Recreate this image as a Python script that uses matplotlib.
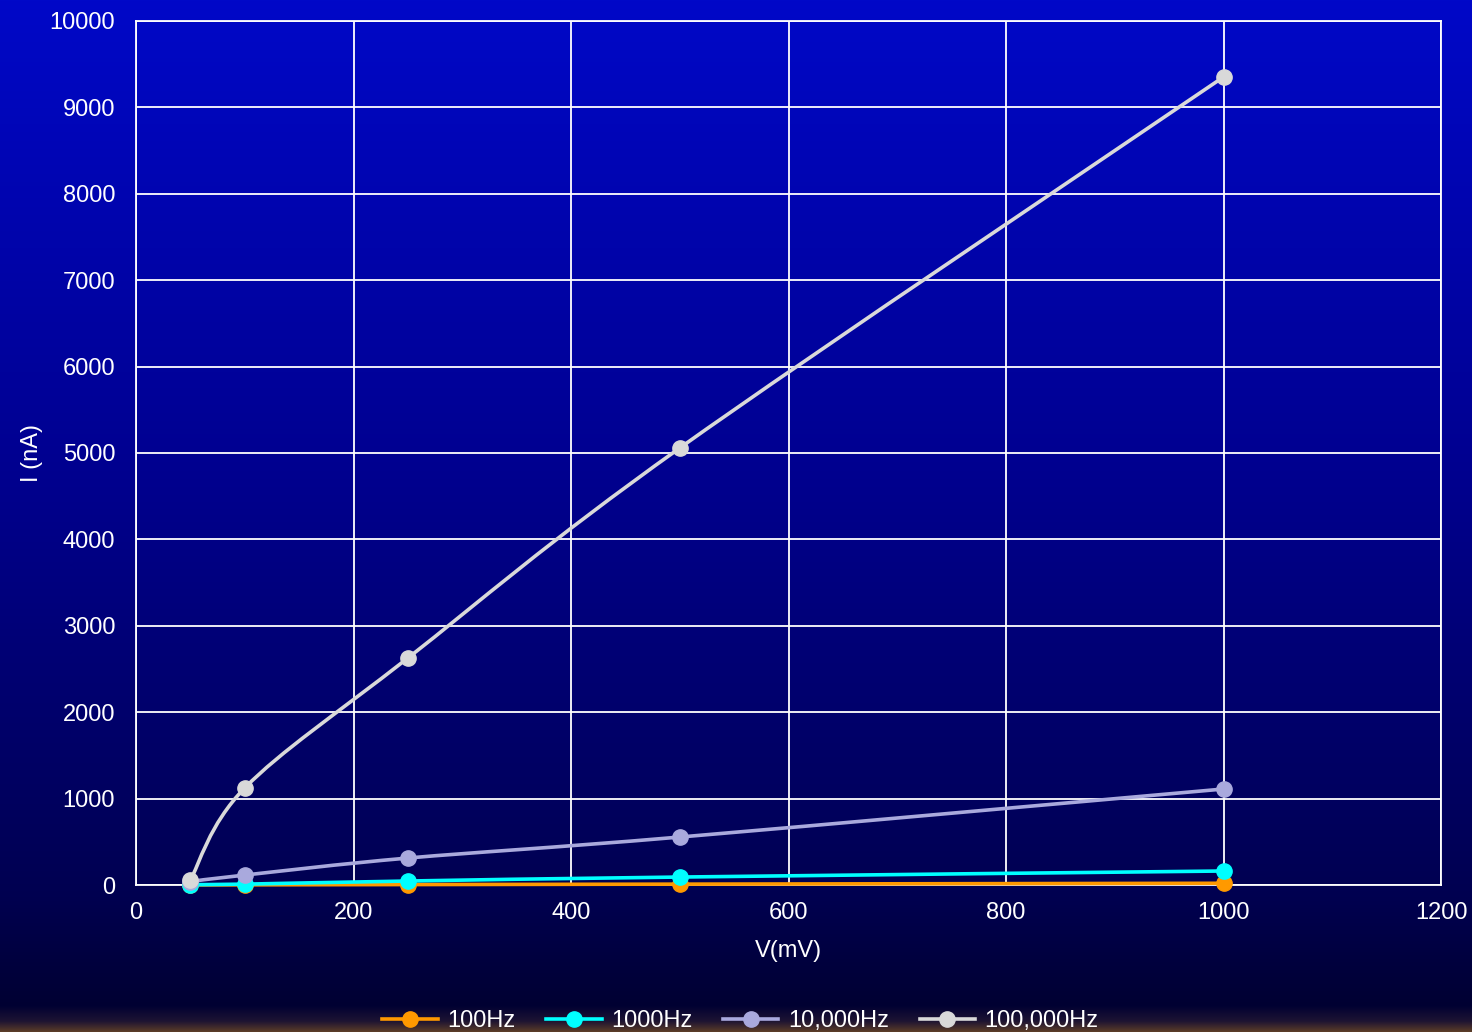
import numpy as np
import matplotlib
matplotlib.use("Agg")
import matplotlib.pyplot as plt
from matplotlib.path import Path
from matplotlib.patches import PathPatch
from matplotlib.lines import Line2D

plt.rcParams['font.family'] = ['Liberation Sans', 'DejaVu Sans']

# ---- data ----
voltage = [50, 100, 250, 500, 1000]
series_names = ["100Hz", "1000Hz", "10,000Hz", "100,000Hz"]
i_100hz = [1, 2, 5, 10, 20]
i_1000hz = [5, 10, 46, 92, 162]
i_10khz = [40, 115, 312, 555, 1111]
i_100khz = [58, 1123, 2627, 5058, 9352]
series_values = [i_100hz, i_1000hz, i_10khz, i_100khz]
series_colors = ["#FF9900", "#00FFFF", "#A9A9DD", "#D9D9D9"]
x_ticks = [0, 200, 400, 600, 800, 1000, 1200]
y_ticks = [0, 1000, 2000, 3000, 4000, 5000, 6000, 7000, 8000, 9000, 10000]

fig = plt.figure(figsize=(14.72, 10.32), dpi=100)

# background gradient
bg = fig.add_axes([0, 0, 1, 1], zorder=-10)
stops_y = [0.0, 0.48, 0.87, 0.975, 0.99, 1.0]
stops_c = [(0, 8, 200), (0, 0, 140), (0, 0, 80), (0, 0, 50), (30, 20, 50), (90, 60, 40)]
ys = np.linspace(0, 1, 1032)
cols = np.zeros((1032, 1, 3))
for k in range(3):
    cols[:, 0, k] = np.interp(ys, stops_y, [c[k] for c in stops_c]) / 255.0
bg.imshow(cols, aspect='auto', extent=[0, 1, 0, 1], origin='upper')
bg.axis('off')

W, H = 1472, 1032
L, R, T, B = 136, 1441, 21, 885
ax = fig.add_axes([L / W, 1 - B / H, (R - L) / W, (B - T) / H])
ax.set_facecolor('none')
ax.set_xlim(0, 1200)
ax.set_ylim(0, 10000)
ax.set_xticks(x_ticks)
ax.set_yticks(y_ticks)
ax.grid(True, color='white', linewidth=1.3)
ax.set_axisbelow(True)
for s in ax.spines.values():
    s.set_color('white')
    s.set_linewidth(1.3)
ax.tick_params(colors='white', labelsize=17, length=0)
ax.tick_params(axis='y', pad=15)
ax.tick_params(axis='x', pad=12)
ax.set_xlabel("V(mV)", color='white', fontsize=17, labelpad=12)
ax.set_ylabel("I (nA)", color='white', fontsize=17, labelpad=5)


def smooth_path(xs, ys, t=1/6):
    xs = np.asarray(xs, float)
    ys = np.asarray(ys, float)
    n = len(xs)
    verts = [(xs[0], ys[0])]
    codes = [Path.MOVETO]
    for i in range(n - 1):
        p0 = np.array([xs[max(i - 1, 0)], ys[max(i - 1, 0)]])
        p1 = np.array([xs[i], ys[i]])
        p2 = np.array([xs[i + 1], ys[i + 1]])
        p3 = np.array([xs[min(i + 2, n - 1)], ys[min(i + 2, n - 1)]])
        c1 = p1 + (p2 - p0) * t
        c2 = p2 - (p3 - p1) * t
        verts += [tuple(c1), tuple(c2), tuple(p2)]
        codes += [Path.CURVE4] * 3
    return Path(verts, codes)


handles = []
for z, (name, vals, c) in enumerate(zip(series_names, series_values, series_colors)):
    patch = PathPatch(smooth_path(voltage, vals), facecolor='none', edgecolor=c,
                      linewidth=2.6, zorder=3 + z, clip_on=False)
    ax.add_patch(patch)
    ax.plot(voltage, vals, linestyle='none', marker='o', markersize=11,
            color=c, zorder=3 + z, clip_on=False)
    handles.append(Line2D([], [], color=c, linewidth=2.6, marker='o', markersize=11))

leg = fig.legend(handles, series_names, loc='center', bbox_to_anchor=(0.503, 1 - 1021 / H),
                 ncol=4, frameon=False, fontsize=17, handlelength=2.35, columnspacing=1.3,
                 handletextpad=0.4)
for t in leg.get_texts():
    t.set_color('white')

fig.savefig("out.png", dpi=100)
